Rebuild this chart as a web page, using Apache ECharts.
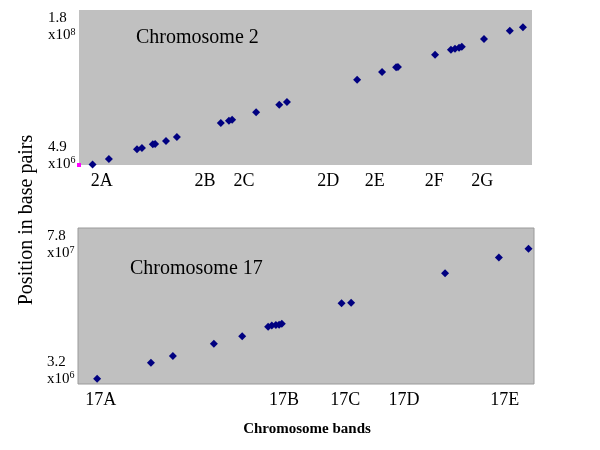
<!DOCTYPE html>
<html><head><meta charset="utf-8">
<script src="https://cdn.jsdelivr.net/npm/echarts@6/dist/echarts.min.js"></script>
<style>html,body{margin:0;padding:0;background:#fff}#c{width:600px;height:450px}</style>
</head><body><div id="c"></div>
<script>
// Chromosome 2: x = relative position along band axis (0-100), y = position in Mb
const chr2X = [3.0, 6.6, 12.8, 13.9, 16.3, 16.8, 19.2, 21.6, 31.3, 33.1, 33.8, 39.1, 44.2, 45.9, 61.4, 66.9, 70.0, 70.4, 78.6, 82.1, 83.0, 83.9, 84.5, 89.4, 95.1, 98.0];
const chr2Y = [5.5, 11.7, 22.6, 24.1, 28.3, 28.6, 32.0, 36.5, 52.3, 54.9, 56.1, 64.4, 73.0, 76.1, 101.3, 110.0, 115.3, 115.6, 129.5, 135.2, 136.3, 137.4, 138.5, 147.2, 156.6, 160.5];
const chr2Bands = ['2A', '2B', '2C', '2D', '2E', '2F', '2G'];
const chr2BandPos = [5.0, 27.8, 36.4, 55.0, 65.3, 78.4, 89.0];
const chr2YTicks = [4.9e6, 1.8e8];
const chr2YLabels = [['4.9', '6'], ['1.8', '8']];

// Chromosome 17
const chr17X = [4.2, 16.0, 20.8, 29.8, 36.0, 41.7, 42.5, 43.4, 44.1, 44.7, 57.8, 59.9, 80.5, 92.3, 98.8];
const chr17Y = [5.7, 13.4, 16.6, 22.5, 26.1, 30.7, 31.2, 31.5, 31.6, 32.1, 41.9, 42.2, 56.3, 63.8, 68.1];
const chr17Bands = ['17A', '17B', '17C', '17D', '17E'];
const chr17BandPos = [5.0, 45.2, 58.6, 71.5, 93.6];
const chr17YTicks = [3.2e6, 7.8e7];
const chr17YLabels = [['3.2', '6'], ['7.8', '7']];

const FONT = 'Liberation Serif';
const pts = (xs, ys) => xs.map((x, i) => [x, ys[i] * 1e6]);

function yAxisCfg(gi, ticks, labels, padH) {
  return {
    gridIndex: gi, type: 'value', min: ticks[0], max: ticks[1],
    axisLine: {show: false}, axisTick: {show: false}, splitLine: {show: false},
    axisLabel: {
      customValues: ticks, align: 'left', margin: 31,
      verticalAlignMinLabel: 'middle', verticalAlignMaxLabel: 'top',
      formatter: v => {
        const i = Math.abs(v - ticks[0]) < Math.abs(v - ticks[1]) ? 0 : 1;
        const l = labels[i];
        return '{n|' + l[0] + '}\n{b|x10}{s|' + l[1] + '}' + (i === 0 ? '\n{e| }' : '');
      },
      rich: {
        n: {fontFamily: FONT, fontSize: 15, color: '#000', lineHeight: 17},
        b: {fontFamily: FONT, fontSize: 15, color: '#000', lineHeight: 17},
        s: {fontFamily: FONT, fontSize: 10, color: '#000', lineHeight: 17, verticalAlign: 'top', padding: [0, 0, 6, 0]},
        e: {fontSize: 4, lineHeight: padH}
      }
    }
  };
}
function xAxisCfg(gi, pos, names) {
  return {
    gridIndex: gi, type: 'value', min: 0, max: 100,
    axisLine: {show: false}, axisTick: {show: false}, splitLine: {show: false},
    axisLabel: {
      customValues: pos, margin: 7, fontFamily: FONT, fontSize: 18, color: '#000',
      formatter: v => { let best = 0; pos.forEach((p, i) => { if (Math.abs(p - v) < Math.abs(pos[best] - v)) best = i; }); return names[best]; }
    }
  };
}

const chart = echarts.init(document.getElementById('c'), null, {renderer: 'canvas'});
chart.setOption({
  animation: false,
  grid: [
    {left: 79, top: 10, width: 453, height: 155, show: true, backgroundColor: '#c0c0c0', borderWidth: 0},
    {left: 78, top: 228, width: 456, height: 156, show: true, backgroundColor: '#c0c0c0', borderColor: '#9a9a9a', borderWidth: 1}
  ],
  xAxis: [xAxisCfg(0, chr2BandPos, chr2Bands), xAxisCfg(1, chr17BandPos, chr17Bands)],
  yAxis: [yAxisCfg(0, chr2YTicks, chr2YLabels, 19), yAxisCfg(1, chr17YTicks, chr17YLabels, 27)],
  series: [
    {type: 'scatter', xAxisIndex: 0, yAxisIndex: 0, symbol: 'diamond', symbolSize: 8, itemStyle: {color: '#000080', opacity: 1}, data: pts(chr2X, chr2Y)},
    {type: 'scatter', xAxisIndex: 1, yAxisIndex: 1, symbol: 'diamond', symbolSize: 8, itemStyle: {color: '#000080', opacity: 1}, data: pts(chr17X, chr17Y)},
    {type: 'scatter', xAxisIndex: 0, yAxisIndex: 0, symbol: 'rect', symbolSize: 4, clip: false, itemStyle: {color: '#ff00ff', opacity: 1}, data: [[0, chr2YTicks[0]]]}
  ],
  graphic: [
    {type: 'text', left: 136, top: 28, style: {text: 'Chromosome 2', font: '20px "Liberation Serif"', fill: '#000'}},
    {type: 'text', left: 130, top: 259, style: {text: 'Chromosome 17', font: '20px "Liberation Serif"', fill: '#000'}},
    {type: 'text', x: 27, y: 220, rotation: Math.PI / 2, style: {text: 'Position in base pairs', font: '20px "Liberation Serif"', fill: '#000', align: 'center', verticalAlign: 'middle'}},
    {type: 'text', x: 307, y: 429, style: {text: 'Chromosome bands', font: 'bold 15px "Liberation Serif"', fill: '#000', align: 'center', verticalAlign: 'middle'}}
  ]
});
</script></body></html>
